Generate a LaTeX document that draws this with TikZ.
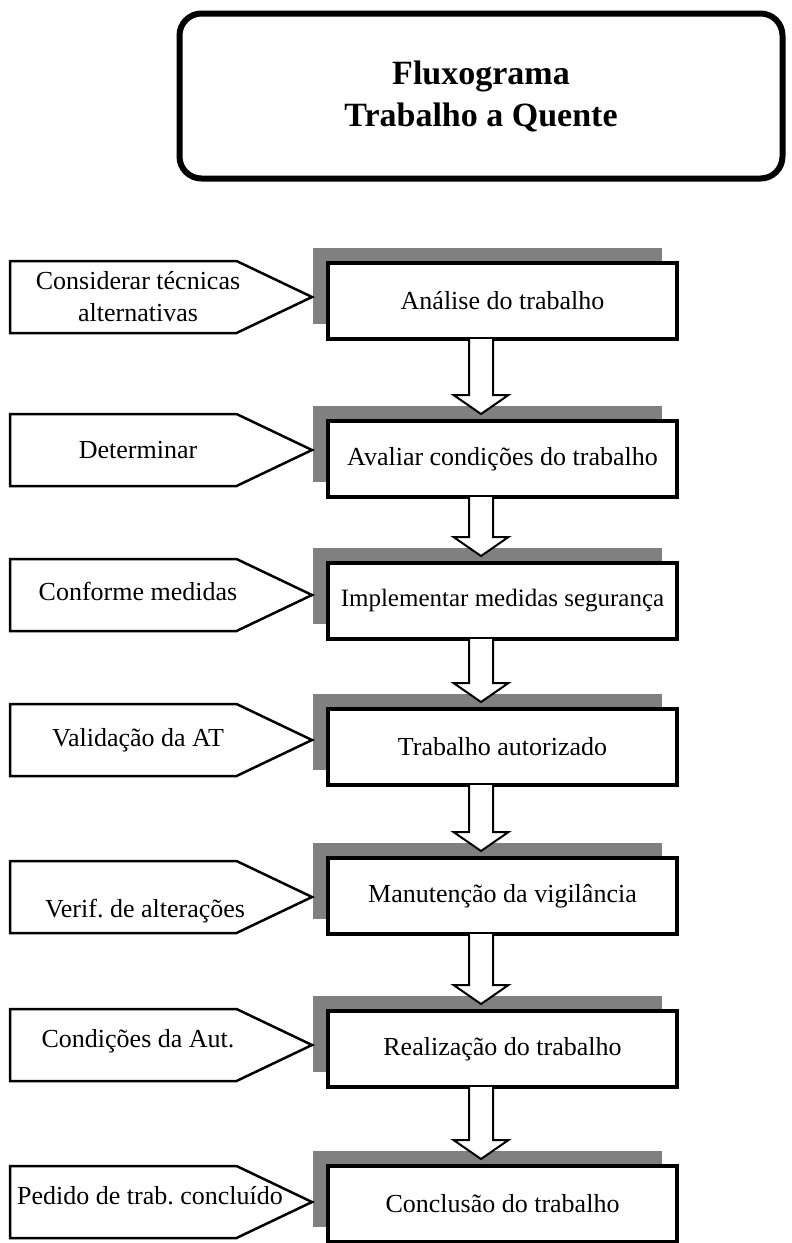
\documentclass[tikz,border=0pt]{standalone}
\usepackage{fontspec}
\setmainfont{Liberation Serif}
\usepackage{tikz}
\usetikzlibrary{positioning, calc, shapes.symbols, shadows}
\definecolor{sombra}{RGB}{128,128,128}
\frenchspacing

% seta oca de bloco entre duas etapas
\newcommand{\blocoseta}[2]{%
  \draw[line width=2pt, fill=white, line join=miter]
    ($(#1.south)+(-33.5pt,0)$) -- ($(#2.north)+(-33.5pt,26pt)$)
    -- ($(#2.north)+(-49pt,26pt)$) -- ($(#2.north)+(-21.5pt,7pt)$)
    -- ($(#2.north)+(6pt,26pt)$) -- ($(#2.north)+(-9.5pt,26pt)$)
    -- ($(#1.south)+(-9.5pt,0)$);
}

\begin{document}
\begin{tikzpicture}[
  x=1pt, y=1pt,
  titulo/.style={draw, line width=6pt, rounded corners=22pt, minimum width=603pt, minimum height=165pt, align=center, font=\bfseries\fontsize{34}{42}\selectfont},
  etapa/.style={draw, line width=3.5pt, fill=white, minimum width=349pt, minimum height=76pt, outer sep=0pt, font=\fontsize{26}{30}\selectfont,
    general shadow={fill=sombra, shadow xshift=-15pt, shadow yshift=15pt}},
  aviso/.style={signal, signal to=east, draw, line width=2.5pt, fill=white, minimum width=302pt, minimum height=72pt, signal pointer angle=51, outer sep=0pt},
  rotulo/.style={font=\fontsize{26}{32}\selectfont, align=center, inner sep=0pt}
]
  \useasboundingbox (0,0) rectangle (792,-1243);

  \node[titulo] (titulo) at (481,-96) {Fluxograma\\Trabalho a Quente};

  \node[etapa] (analise) at (502.5,-301) {Análise do trabalho};
  \node[etapa, below=82pt of analise] (avaliar) {Avaliar condições do trabalho};
  \node[etapa, below=66pt of avaliar, font=\fontsize{25}{29}\selectfont] (implem) {Implementar medidas segurança};
  \node[etapa, below=70pt of implem] (autoriz) {Trabalho autorizado};
  \node[etapa, below=73pt of autoriz] (vigil) {Manutenção da vigilância};
  \node[etapa, below=77pt of vigil] (realiz) {Realização do trabalho};
  \node[etapa, below=79pt of realiz] (conclus) {Conclusão do trabalho};

  \node[aviso, left=16pt of analise, yshift=4pt] (tecnicas) {};
  \node[aviso, left=16pt of avaliar, yshift=9pt] (determ) {};
  \node[aviso, left=16pt of implem, yshift=6pt] (conforme) {};
  \node[aviso, left=16pt of autoriz, yshift=7pt] (valid) {};
  \node[aviso, left=16pt of vigil, yshift=-1pt] (verif) {};
  \node[aviso, left=16pt of realiz, yshift=4pt] (condic) {};
  \node[aviso, left=16pt of conclus, yshift=2pt] (pedido) {};

  \node[rotulo] (tecnicas-txt) at ([xshift=-174pt]tecnicas.east) {Considerar técnicas\\alternativas};
  \node[rotulo] (determ-txt) at ([xshift=-174pt]determ.east) {Determinar};
  \node[rotulo] (conforme-txt) at ([xshift=-174pt,yshift=4pt]conforme.east) {Conforme medidas};
  \node[rotulo] (valid-txt) at ([xshift=-174pt]valid.east) {Validação da AT};
  \node[rotulo] (verif-txt) at ([xshift=-167pt,yshift=-14pt]verif.east) {Verif. de alterações};
  \node[rotulo] (condic-txt) at ([xshift=-174pt,yshift=4pt]condic.east) {Condições da Aut.};
  \node[rotulo] (pedido-txt) at ([xshift=-162pt,yshift=6pt]pedido.east) {Pedido de trab. concluído};

  \blocoseta{analise}{avaliar}
  \blocoseta{avaliar}{implem}
  \blocoseta{implem}{autoriz}
  \blocoseta{autoriz}{vigil}
  \blocoseta{vigil}{realiz}
  \blocoseta{realiz}{conclus}
\end{tikzpicture}
\end{document}
